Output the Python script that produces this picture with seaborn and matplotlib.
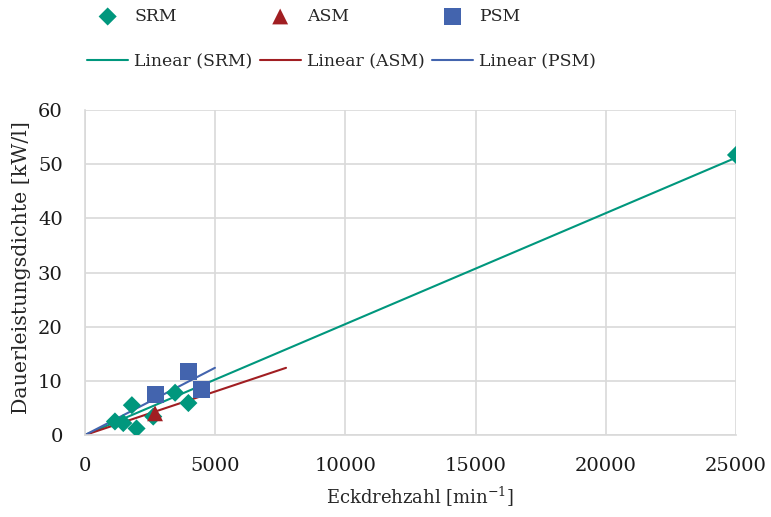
import numpy as np
import pandas as pd
import matplotlib
matplotlib.use("Agg")
import matplotlib.pyplot as plt
import seaborn as sns

# Datos
srm_x = [1150, 1470, 1800, 1980, 2620, 3460, 3970, 25000]
srm_y = [2.5, 2.2, 5.5, 1.2, 3.4, 7.8, 5.9, 51.7]

asm_x = [2690]
asm_y = [4.0]

psm_x = [2690, 3970, 4480]
psm_y = [7.4, 11.7, 8.4]

# Líneas de tendencia (inicio y fin)
srm_fit_x = [0, 25000]
srm_fit_y = [0, 51.2]
asm_fit_x = [0, 7720]
asm_fit_y = [0, 12.4]
psm_fit_x = [0, 4990]
psm_fit_y = [0, 12.4]

c_srm = "#00977D"
c_asm = "#A11E22"
c_psm = "#4364AE"

sns.set_style("white")
plt.rcParams["font.family"] = ["DejaVu Serif"]
plt.rcParams["mathtext.default"] = "regular"

fig = plt.figure(figsize=(7.71, 5.17), dpi=100)
ax = fig.add_axes([85 / 771, 1 - 435 / 517, 651 / 771, 325 / 517])

# Tendencias
sns.lineplot(x=srm_fit_x, y=srm_fit_y, color=c_srm, linewidth=1.5,
             label="Linear (SRM)", ax=ax)
sns.lineplot(x=asm_fit_x, y=asm_fit_y, color=c_asm, linewidth=1.5,
             label="Linear (ASM)", ax=ax)
sns.lineplot(x=psm_fit_x, y=psm_fit_y, color=c_psm, linewidth=1.5,
             label="Linear (PSM)", ax=ax)

# Puntos
sns.scatterplot(x=srm_x, y=srm_y, marker="D", s=85, color=c_srm,
                edgecolor="none", label="SRM", ax=ax, zorder=3)
sns.scatterplot(x=asm_x, y=asm_y, marker="^", s=130, color=c_asm,
                edgecolor="none", label="ASM", ax=ax, zorder=3)
sns.scatterplot(x=psm_x, y=psm_y, marker="s", s=150, color=c_psm,
                edgecolor="none", label="PSM", ax=ax, zorder=3)

ax.set_xlim(0, 25000)
ax.set_ylim(0, 60)
ax.set_xticks(np.arange(0, 25001, 5000))
ax.set_yticks(np.arange(0, 61, 10))
ax.grid(True, color="#D9D9D9", linewidth=1.2)
ax.set_axisbelow(True)
for side in ["top", "right"]:
    ax.spines[side].set_visible(False)
for side in ["left", "bottom"]:
    ax.spines[side].set_color("#D9D9D9")
    ax.spines[side].set_linewidth(1.2)
ax.tick_params(length=0, pad=16, labelsize=14, colors="#1a1a1a")

ax.set_ylabel("Dauerleistungsdichte [kW/l]", fontsize=14.8)
ax.yaxis.set_label_coords(-0.083, 0.514)
ax.set_xlabel(r"Eckdrehzahl [min$^{-1}$]", fontsize=13)
ax.xaxis.set_label_coords(0.515, -0.152)
ax.xaxis.label.set_va("top")

# Leyenda arriba
handles, labels = ax.get_legend_handles_labels()
ax.get_legend().remove()
orden = ["SRM", "Linear (SRM)", "ASM", "Linear (ASM)", "PSM", "Linear (PSM)"]
h = [handles[labels.index(l)] for l in orden]
fig.legend(h, orden, ncol=3, loc="upper left",
           bbox_to_anchor=(87 / 771, 1 - 8 / 517),
           frameon=False, fontsize=12.4, handlelength=2.4,
           handletextpad=0.35, columnspacing=0.4, labelspacing=1.65,
           borderpad=0, borderaxespad=0)

plt.savefig("out.png", dpi=100)
